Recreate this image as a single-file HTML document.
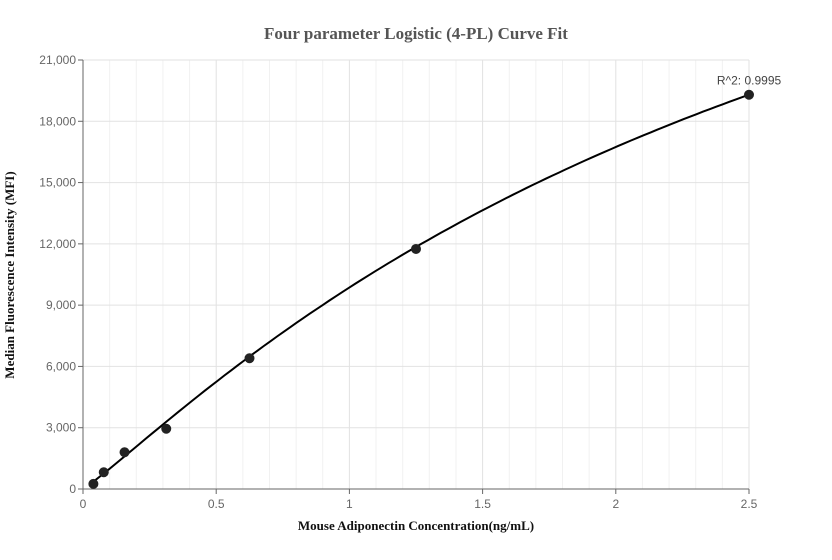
<!DOCTYPE html>
<html><head><meta charset="utf-8"><style>
body{margin:0;background:#fff;}
svg{display:block;font-family:"Liberation Sans",sans-serif;}
</style></head><body>
<svg id="chart" width="832" height="560">
<text x="416" y="39" text-anchor="middle" font-family="Liberation Serif" font-weight="bold" font-size="17" fill="#555">Four parameter Logistic (4-PL) Curve Fit</text>
<g id="grid"></g>
<g id="axes"></g>
<g id="series"></g>
<text x="416" y="530" text-anchor="middle" font-family="Liberation Serif" font-weight="bold" font-size="13" fill="#111">Mouse Adiponectin Concentration(ng/mL)</text>
<text transform="translate(14,275) rotate(-90)" text-anchor="middle" font-family="Liberation Serif" font-weight="bold" font-size="13" fill="#111">Median Fluorescence Intensity (MFI)</text>
</svg>
<script>
const xValues=[0.039,0.078,0.156,0.3125,0.625,1.25,2.5];
const yValues=[250,820,1800,2950,6400,11750,19300];
const xTicks=[0,0.5,1,1.5,2,2.5];
const xTickLabels=["0","0.5","1","1.5","2","2.5"];
const yTicks=[0,3000,6000,9000,12000,15000,18000,21000];
const yTickLabels=["0","3,000","6,000","9,000","12,000","15,000","18,000","21,000"];
const fitA=0, fitB=1.1, fitC=3, fitD=42890;
const r2Label="R^2: 0.9995";
const NS="http://www.w3.org/2000/svg";
const X0=83,X1=749,Y0=489,Y1=60,xMax=2.5,yMax=21000;
const sx=v=>X0+v/xMax*(X1-X0);
const sy=v=>Y0-v/yMax*(Y0-Y1);
function mk(tag,attrs,parent){const e=document.createElementNS(NS,tag);for(const k in attrs)e.setAttribute(k,attrs[k]);parent.appendChild(e);return e;}
const grid=document.getElementById('grid'),axes=document.getElementById('axes'),series=document.getElementById('series');
for(let i=1;i<=25;i++){
  const v=i*0.1;
  const l=mk('line',{x1:sx(v),x2:sx(v),y1:Y1,y2:Y0,stroke:i%5===0?'#e2e2e2':'#f1f1f1','stroke-width':1},grid);
  
  
}
yTicks.forEach((t,i)=>{
  if(t>0){const l=mk('line',{x1:X0,x2:X1,y1:sy(t),y2:sy(t),stroke:'#e2e2e2','stroke-width':1},grid);
  
  }
  const tk=mk('line',{x1:X0-5,x2:X0,y1:sy(t),y2:sy(t),stroke:'#666'},axes);
  
  
  const tx=mk('text',{x:X0-7,y:sy(t)+4,'text-anchor':'end','font-size':12,fill:'#666'},axes);
  tx.textContent=yTickLabels[i];
  
  
});
xTicks.forEach((t,i)=>{
  const tk=mk('line',{x1:sx(t),x2:sx(t),y1:Y0,y2:Y0+5,stroke:'#666'},axes);
  
  
  const tx=mk('text',{x:sx(t),y:Y0+19,'text-anchor':'middle','font-size':12,fill:'#666'},axes);
  tx.textContent=xTickLabels[i];
  
  
});
const ya=mk('line',{x1:X0,x2:X0,y1:Y1,y2:Y0,stroke:'#666'},axes);


const xa=mk('line',{x1:X0,x2:X1,y1:Y0,y2:Y0,stroke:'#666'},axes);


const fit=x=>fitD+(fitA-fitD)/(1+Math.pow(x/fitC,fitB));
let d='';
const xs=xValues[0],xe=xValues[xValues.length-1];
for(let i=0;i<=100;i++){const x=xs+(xe-xs)*i/100;d+=(i?'L':'M')+sx(x).toFixed(1)+','+sy(fit(x)).toFixed(1);}
const curve=mk('path',{d:d,fill:'none',stroke:'#000','stroke-width':2},series);


xValues.forEach((x,i)=>{
  const c=mk('circle',{cx:sx(x),cy:sy(yValues[i]),r:5,fill:'#222'},series);
  
  
});
const r=mk('text',{x:sx(xe),y:sy(yValues[yValues.length-1])-10,'text-anchor':'middle','font-size':12,fill:'#444'},series);
r.textContent=r2Label;


</script>
</body></html>
